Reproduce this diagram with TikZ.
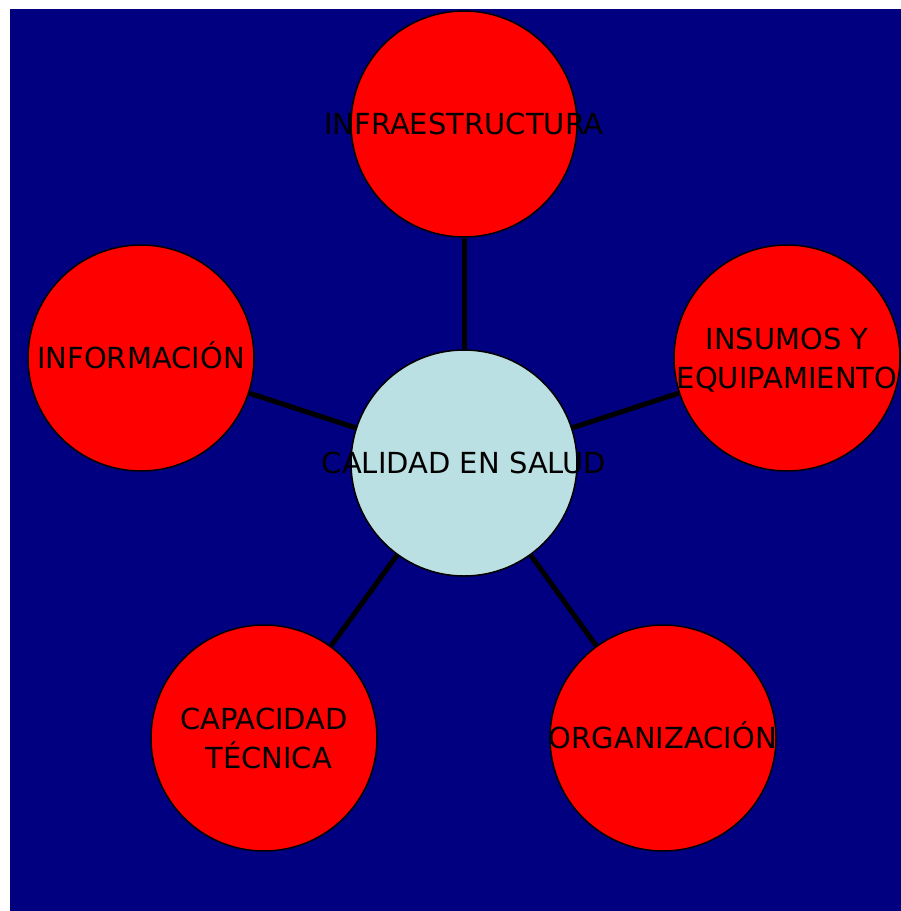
\documentclass[tikz,border=0pt]{standalone}
\usepackage{fontspec}
\setmainfont{DejaVu Sans}
\definecolor{fondo}{RGB}{0,0,128}
\definecolor{rojo}{RGB}{255,0,0}
\definecolor{celeste}{RGB}{187,224,227}
\newcommand{\setup}{
    \coordinate (c0) at (464,463); % centro
    \coordinate (c1) at (464,124);
    \coordinate (c2) at (787,358);
    \coordinate (c3) at (663,738);
    \coordinate (c4) at (264,738);
    \coordinate (c5) at (141,358);
}
% texto sin ancho, para que no ensanche el circulo
\newcommand{\rotulo}[1]{\raisebox{0pt}[\dimexpr\height+6pt][\depth]{%
  \makebox[0pt]{\begin{tabular}{@{}c@{}}#1\end{tabular}}}}
\tikzset{
  circulo/.style={circle,draw=black,line width=1.5pt,minimum size=226pt,
    inner sep=0pt,font=\fontsize{29}{39}\selectfont},
  rama/.style={circulo,fill=rojo},
  nucleo/.style={circulo,fill=celeste},
  enlace/.style={line width=5pt,black}
}

\begin{document}
\begin{tikzpicture}[x=1pt,y=-1pt]
          \useasboundingbox (0,0) rectangle (901,911);
          \fill[fondo] (10,9) rectangle (901,911);
          \setup;

          \node[nucleo] (salud) at (c0) {\rotulo{CALIDAD EN SALUD}};
          \node[rama] (infra) at (c1) {\rotulo{INFRAESTRUCTURA}};
          \node[rama] (insumos) at (c2) {\rotulo{INSUMOS Y\ \\ EQUIPAMIENTO}};
          \node[rama] (organiz) at (c3) {\rotulo{ORGANIZACIÓN}};
          \node[rama] (capac) at (c4) {\rotulo{CAPACIDAD\ \\ \ TÉCNICA}};
          \node[rama] (inform) at (c5) {\rotulo{INFORMACIÓN}};

          \draw[enlace] (salud) -- (infra);
          \draw[enlace] (salud) -- (insumos);
          \draw[enlace] (salud) -- (organiz);
          \draw[enlace] (salud) -- (capac);
          \draw[enlace] (salud) -- (inform);
        \end{tikzpicture}
\end{document}
